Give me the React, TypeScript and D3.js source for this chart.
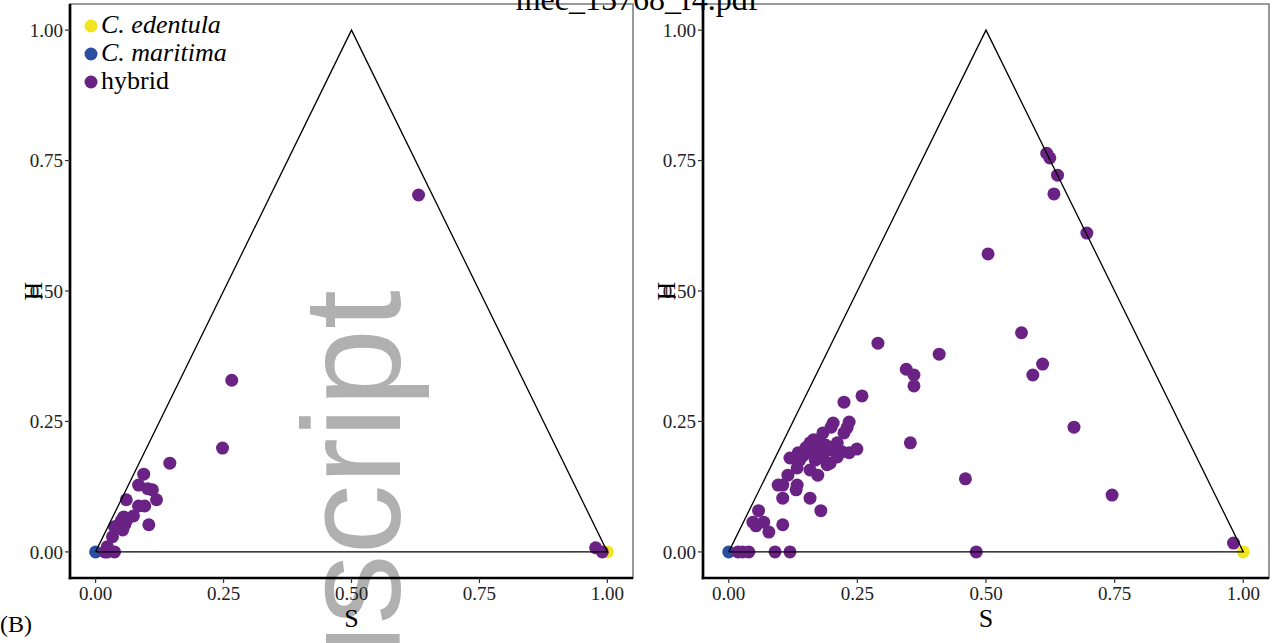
import React from "react";
import * as d3 from "d3";

// [S, H] pairs
const leftHybrid: [number, number][] = [
  [0.631, 0.684], [0.266, 0.329], [0.248, 0.199], [0.145, 0.170], [0.094, 0.149],
  [0.084, 0.128], [0.102, 0.121], [0.111, 0.119], [0.119, 0.100], [0.060, 0.100],
  [0.084, 0.088], [0.096, 0.088], [0.074, 0.069], [0.055, 0.067], [0.051, 0.061],
  [0.061, 0.061], [0.045, 0.052], [0.057, 0.052], [0.037, 0.048], [0.053, 0.042],
  [0.104, 0.052], [0.033, 0.029], [0.023, 0.010], [0.023, 0.0], [0.037, 0.0],
  [0.018, 0.0], [0.977, 0.008], [0.990, 0.0],
];

const rightHybrid: [number, number][] = [
  [0.618, 0.764], [0.624, 0.755], [0.639, 0.722], [0.632, 0.686], [0.696, 0.611],
  [0.504, 0.571], [0.569, 0.420], [0.610, 0.360], [0.591, 0.339], [0.671, 0.239],
  [0.745, 0.109], [0.460, 0.140], [0.481, 0.0], [0.981, 0.017], [0.409, 0.379],
  [0.290, 0.400], [0.345, 0.350], [0.360, 0.339], [0.360, 0.318], [0.353, 0.209],
  [0.259, 0.299], [0.224, 0.287],
  [0.203, 0.247], [0.199, 0.239], [0.234, 0.249], [0.230, 0.238], [0.224, 0.228],
  [0.183, 0.228], [0.158, 0.209], [0.175, 0.209], [0.211, 0.209], [0.249, 0.197],
  [0.234, 0.190], [0.135, 0.190], [0.119, 0.180], [0.138, 0.176], [0.158, 0.195],
  [0.168, 0.186], [0.177, 0.192], [0.193, 0.195], [0.203, 0.201], [0.168, 0.176],
  [0.183, 0.180], [0.197, 0.170], [0.211, 0.182], [0.191, 0.167], [0.158, 0.157],
  [0.173, 0.147], [0.133, 0.161], [0.115, 0.147], [0.096, 0.128], [0.105, 0.128],
  [0.133, 0.128], [0.131, 0.119], [0.105, 0.103], [0.158, 0.103], [0.058, 0.079],
  [0.179, 0.079], [0.047, 0.057], [0.068, 0.057], [0.053, 0.050], [0.105, 0.052],
  [0.078, 0.038], [0.018, 0.0], [0.027, 0.0], [0.039, 0.0], [0.090, 0.0], [0.119, 0.0],
  [0.150, 0.200], [0.145, 0.185], [0.188, 0.205], [0.165, 0.215], [0.220, 0.192],
  [0.127, 0.180],
];

const edentula: [number, number][] = [[1.0, 0.0]];
const maritima: [number, number][] = [[0.0, 0.0]];
const triangle: [number, number][] = [[0, 0], [0.5, 1], [1, 0]];

const tickValues = [0, 0.25, 0.5, 0.75, 1];
const legendItems = [
  { label: "C. edentula", color: "#F1E51F", italic: true },
  { label: "C. maritima", color: "#2B4E9F", italic: true },
  { label: "hybrid", color: "#6A2384", italic: false },
];
const titleText = "mec_15768_f4.pdf";
const panelTag = "(B)";
const watermark = "Author Manuscript";

const SERIF = "'Liberation Serif', 'Times New Roman', serif";
const HYB = "#6A2384";
const R = 6.5;

function Panel({ left, right, hybrids, legend }: { left: number; right: number; hybrids: [number, number][]; legend: boolean }) {
  const top = 4, bottom = 578;
  const x = d3.scaleLinear().domain([-0.05, 1.05]).range([left, right]);
  const y = d3.scaleLinear().domain([-0.05, 1.05]).range([bottom, top]);
  const line = d3.line<[number, number]>().x(d => x(d[0])).y(d => y(d[1]));
  return (
    <g>
      <rect x={left} y={top} width={right - left} height={bottom - top} fill="none" stroke="#808080" strokeWidth={1.6} />
      {edentula.map((d, i) => <circle key={"e" + i} cx={x(d[0])} cy={y(d[1])} r={R} fill={legendItems[0].color} />)}
      {maritima.map((d, i) => <circle key={"m" + i} cx={x(d[0])} cy={y(d[1])} r={R} fill={legendItems[1].color} />)}
      {hybrids.map((d, i) => <circle key={"h" + i} cx={x(d[0])} cy={y(d[1])} r={R} fill={HYB} />)}
      <path d={line([...triangle, triangle[0]]) || ""} fill="none" stroke="#000" strokeWidth={1.3} />
      <line x1={left} x2={left} y1={top} y2={bottom + 1.3} stroke="#000" strokeWidth={2.7} />
      <line x1={left - 1.3} x2={right} y1={bottom} y2={bottom} stroke="#000" strokeWidth={2.7} />
      {tickValues.map(t => (
        <g key={"yt" + t}>
          <line x1={left - 5} x2={left} y1={y(t)} y2={y(t)} stroke="#333" strokeWidth={1.2} />
          <text x={left - 7} y={y(t)} dy="0.35em" textAnchor="end" fontFamily={SERIF} fontSize={19} fill="#222">{d3.format(".2f")(t)}</text>
        </g>
      ))}
      {tickValues.map(t => (
        <g key={"xt" + t}>
          <line x1={x(t)} x2={x(t)} y1={bottom} y2={bottom + 5} stroke="#333" strokeWidth={1.2} />
          <text x={x(t)} y={600} textAnchor="middle" fontFamily={SERIF} fontSize={19} fill="#222">{d3.format(".2f")(t)}</text>
        </g>
      ))}
      <text x={x(0.5)} y={627} textAnchor="middle" fontFamily={SERIF} fontSize={26} fill="#000">S</text>
      <text transform={`translate(${left - 28},${y(0.5)}) rotate(-90)`} textAnchor="middle" fontFamily={SERIF} fontSize={26} fill="#000">H</text>
      {legend && legendItems.map((it, i) => (
        <g key={"lg" + i}>
          <circle cx={91} cy={26 + i * 28} r={R} fill={it.color} />
          <text x={101} y={33 + i * 28} fontFamily={SERIF} fontSize={26} fontStyle={it.italic ? "italic" : "normal"} fill="#000">{it.label}</text>
        </g>
      ))}
    </g>
  );
}

export default function App() {
  return (
    <svg width={1273} height={643} style={{ position: "absolute", left: 0, top: 0, background: "#fff" }}>
      <rect x={0} y={0} width={1273} height={643} fill="#fff" />
      <text transform="translate(400,290) rotate(-90)" textAnchor="end" fontFamily="'Liberation Sans', Arial, sans-serif" fontSize={140} fill="#b0b0b0">{watermark}</text>
      <Panel left={70} right={633} hybrids={leftHybrid} legend={true} />
      <Panel left={703} right={1269} hybrids={rightHybrid} legend={false} />
      <text x={637} y={10} textAnchor="middle" fontFamily={SERIF} fontSize={32} fill="#000">{titleText}</text>
      <text x={0} y={632} fontFamily={SERIF} fontSize={24} fill="#000">{panelTag}</text>
    </svg>
  );
}
